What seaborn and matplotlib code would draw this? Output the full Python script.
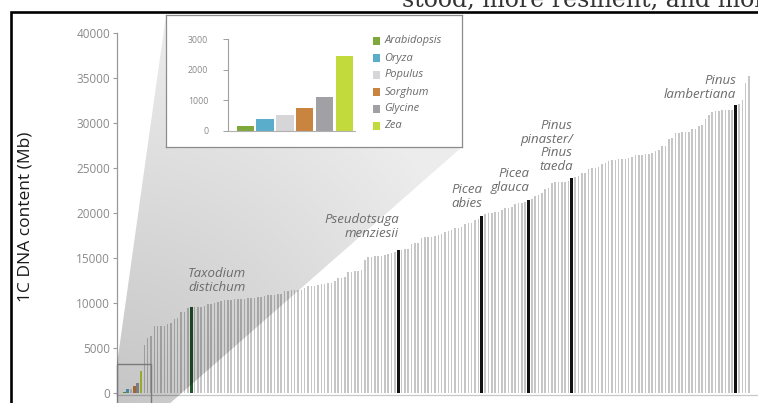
import numpy as np
import pandas as pd
import matplotlib
matplotlib.use("Agg")
import matplotlib.pyplot as plt
from matplotlib.patches import Rectangle, Polygon
import seaborn as sns

# Model plant genomes (1C DNA content, Mb)
model_species = ["Arabidopsis", "Oryza", "Populus", "Sorghum", "Glycine", "Zea"]
model_sizes = [150, 390, 500, 730, 1100, 2450]
model_colors = ["#7fa83c", "#5aaecb", "#d6d6d9", "#c98540", "#a0a0a5", "#c2da3c"]

# Conifer genomes sorted by size (1C DNA content, Mb)
conifer_sizes = [
    5300, 6100, 6300, 7400, 7400, 7450, 7500, 7700, 7800, 8250,
    8300, 9000, 9050, 9450, 9520, 9520, 9550, 9600, 9700, 9850,
    9900, 10000, 10150, 10250, 10300, 10300, 10350, 10400, 10450, 10500,
    10500, 10550, 10550, 10600, 10650, 10700, 10800, 10850, 10850, 10900,
    10950, 11000, 11300, 11350, 11400, 11450, 11450, 11500, 11700, 11850,
    11850, 11900, 12000, 12100, 12150, 12200, 12250, 12500, 12750, 12800,
    12850, 13450, 13500, 13550, 13600, 13650, 14800, 15100, 15150, 15200,
    15200, 15250, 15300, 15500, 15600, 15700, 15900, 15900, 15950, 16000,
    16600, 16650, 16700, 17200, 17300, 17300, 17350, 17500, 17600, 17700,
    17900, 18000, 18100, 18300, 18350, 18400, 18800, 18850, 18900, 19250,
    19300, 19650, 19900, 20000, 20050, 20100, 20150, 20300, 20550, 20600,
    20650, 21050, 21100, 21150, 21200, 21450, 21600, 21850, 22000, 22200,
    22700, 22800, 23350, 23400, 23450, 23450, 23500, 23550, 23850, 24000,
    24100, 24400, 24450, 24900, 25000, 25000, 25100, 25500, 25550, 25800,
    25850, 25900, 26000, 26000, 26050, 26100, 26200, 26450, 26500, 26500,
    26550, 26600, 26650, 26900, 27000, 27400, 27450, 28200, 28300, 28900,
    28900, 28950, 29000, 29050, 29300, 29350, 29700, 29800, 30500, 30900,
    31200, 31300, 31350, 31400, 31400, 31400, 31450, 31950, 32100, 32600,
    34500, 35200,
]

# Sequenced conifers singled out in the ranking
highlight_labels = ["Taxodium\ndistichum", "Pseudotsuga\nmenziesii", "Picea\nabies",
                    "Picea\nglauca", "Pinus\npinaster/\nPinus\ntaeda", "Pinus\nlambertiana"]
highlight_index = [14, 76, 101, 115, 128, 177]
highlight_kind = ["taxodium", "sequenced", "sequenced", "sequenced", "sequenced", "sequenced"]

y_ticks = [0, 5000, 10000, 15000, 20000, 25000, 30000, 35000, 40000]
inset_ticks = [0, 1000, 2000, 3000]

# ---------------------------------------------------------------- styling
sns.set_theme(style="white")
plt.rcParams["font.family"] = ["Open Sans", "DejaVu Sans"]

W, H = 758, 403
fig = plt.figure(figsize=(W / 100, H / 100), dpi=100)
fig.patch.set_facecolor("white")


def fx(px):
    return px / W


def fy(py):
    return 1 - py / H


# ---------------------------------------------------------------- main chart
n_model = len(model_species)
sizes = model_sizes + conifer_sizes
kinds = list(model_species) + ["conifer"] * len(conifer_sizes)
for i, k in zip(highlight_index, highlight_kind):
    kinds[n_model + i] = k
df = pd.DataFrame({"pos": np.arange(len(sizes)), "size": sizes, "kind": kinds})

palette = dict(zip(model_species, model_colors))
palette.update({"conifer": "#c6c6c6", "sequenced": "#111111", "taxodium": "#22552a"})
bar_width = {k: 0.75 for k in model_species}
bar_width.update({"conifer": 0.47, "sequenced": 0.9, "taxodium": 0.9})

ax = fig.add_axes([fx(117), fy(395), fx(758) - fx(117), fy(33) - fy(395)], zorder=0)
sns.barplot(data=df, x="pos", y="size", hue="kind", palette=palette, order=list(df["pos"]),
            dodge=False, saturation=1, errorbar=None, legend=False, linewidth=0,
            edgecolor="none", ax=ax)
for p in ax.patches:
    c = p.get_x() + p.get_width() / 2
    w = bar_width[kinds[int(round(c))]]
    p.set_x(c - w / 2)
    p.set_width(w)

ax.set_xlim(-2.17, 189.7)
ax.set_ylim(-222, 40000)
ax.set_yticks(y_ticks)
ax.set_yticklabels([str(v) for v in y_ticks])
ax.set_xticks([])
ax.set_xlabel("")
ax.set_ylabel("")
ax.set_facecolor("none")
for s in ["top", "right"]:
    ax.spines[s].set_visible(False)
ax.spines["left"].set_color("#9a9a9a")
ax.spines["left"].set_linewidth(0.9)
ax.spines["bottom"].set_color("#c8c8c8")
ax.spines["bottom"].set_linewidth(0.9)
ax.tick_params(axis="y", which="major", direction="out", length=3, width=0.8,
               color="#9a9a9a", labelcolor="#8a8a8a", labelsize=8.5, pad=2, left=True)

fig.text(fx(26), fy(216.5), "1C DNA content (Mb)", rotation=90, ha="center", va="center",
         fontsize=12.5, color="#1a1a1a")

# ---------------------------------------------------------------- zoom wedge
ax_over = fig.add_axes([0, 0, 1, 1], zorder=0.5)
ax_over.set_axis_off()
ax_over.patch.set_alpha(0)
yy, xx = np.mgrid[0:H, 0:W] + 0.5
dist = np.hypot(xx - 117, yy - 403)
alpha = np.clip(0.23 - 0.00040 * dist, 0.075, 0.3)
shade = np.zeros((H, W, 4))
shade[..., 3] = alpha
im = ax_over.imshow(shade, extent=(0, W, H, 0), interpolation="bilinear", aspect="auto")
wedge = Polygon([(117, 420), (117, 364), (166, 15), (462, 15), (462, 147), (151, 420)],
                closed=True, fc="none", ec="none", transform=ax_over.transData)
ax_over.add_patch(wedge)
im.set_clip_path(wedge)
ax_over.set_xlim(0, W)
ax_over.set_ylim(H, 0)

# box around the model-plant bars
ax_over.add_patch(Rectangle((117, 364), 34, 60, fill=False, ec="#7a7a7a", lw=1.0,
                            transform=ax_over.transData))

# labels for the highlighted conifers
label_dx = [7.77, 0.2, 0.2, 0.2, 0.2, 0.2]
label_dy = [2990, 2560, 2145, 2160, 3595, 1980]
for lab, i, dx, dy in zip(highlight_labels, highlight_index, label_dx, label_dy):
    ha = "center" if dx > 1 else "right"
    ax_over.text(n_model + i + dx, conifer_sizes[i] + dy, lab, transform=ax.transData,
                 ha=ha, va="center", multialignment=ha, fontsize=9.5, style="italic",
                 color="#6b6b6b", linespacing=1.08)

# ---------------------------------------------------------------- inset
ax_frame = fig.add_axes([fx(166), fy(147), fx(462) - fx(166), fy(15) - fy(147)], zorder=2)
ax_frame.set_facecolor("white")
ax_frame.set_xticks([])
ax_frame.set_yticks([])
for s in ax_frame.spines.values():
    s.set_color("#8c8c8c")
    s.set_linewidth(0.9)

ax_in = fig.add_axes([fx(228.3), fy(130.7), fx(355) - fx(228.3), fy(39.3) - fy(130.7)], zorder=3)
sns.barplot(x=model_species, y=model_sizes, hue=model_species, palette=model_colors,
            saturation=1, width=0.88, errorbar=None, legend=False, linewidth=0,
            edgecolor="none", ax=ax_in)
ax_in.set_xlim(-0.86, 5.54)
ax_in.set_ylim(0, 3000)
ax_in.set_yticks(inset_ticks)
ax_in.set_yticklabels([str(v) for v in inset_ticks])
ax_in.set_xticks([])
ax_in.set_facecolor("none")
for s in ["top", "right"]:
    ax_in.spines[s].set_visible(False)
ax_in.spines["left"].set_color("#a0a0a0")
ax_in.spines["left"].set_linewidth(0.8)
ax_in.spines["bottom"].set_color("#b0b0b0")
ax_in.spines["bottom"].set_linewidth(0.8)
ax_in.tick_params(axis="y", direction="out", length=3.5, width=0.7, color="#a0a0a0",
                  labelcolor="#8a8a8a", labelsize=6.3, pad=11, left=True)

# legend of the model plants
for k, (name, col) in enumerate(zip(model_species, model_colors)):
    yc = 41 + k * 17
    ax_frame.add_patch(Rectangle((fx(373), fy(yc + 3.7)), fx(7.4), fy(0) - fy(7.4),
                                 transform=fig.transFigure, fc=col, ec="none", clip_on=False))
    ax_frame.text(fx(384.5), fy(yc), name, transform=fig.transFigure, ha="left", va="center",
                  fontsize=8, style="italic", color="#6b6b6b")

# ---------------------------------------------------------------- page frame
fig.add_artist(Rectangle((fx(11), -0.1), 1.2, fy(11.5) + 0.1, transform=fig.transFigure,
                         fill=False, ec="black", lw=1.9, zorder=10))
fig.text(fx(402), fy(6.5), "stood, more resilient, and more", family="DejaVu Serif",
         fontsize=17, color="#333333", ha="left", va="baseline", zorder=10)

fig.savefig("out.png", dpi=100)
